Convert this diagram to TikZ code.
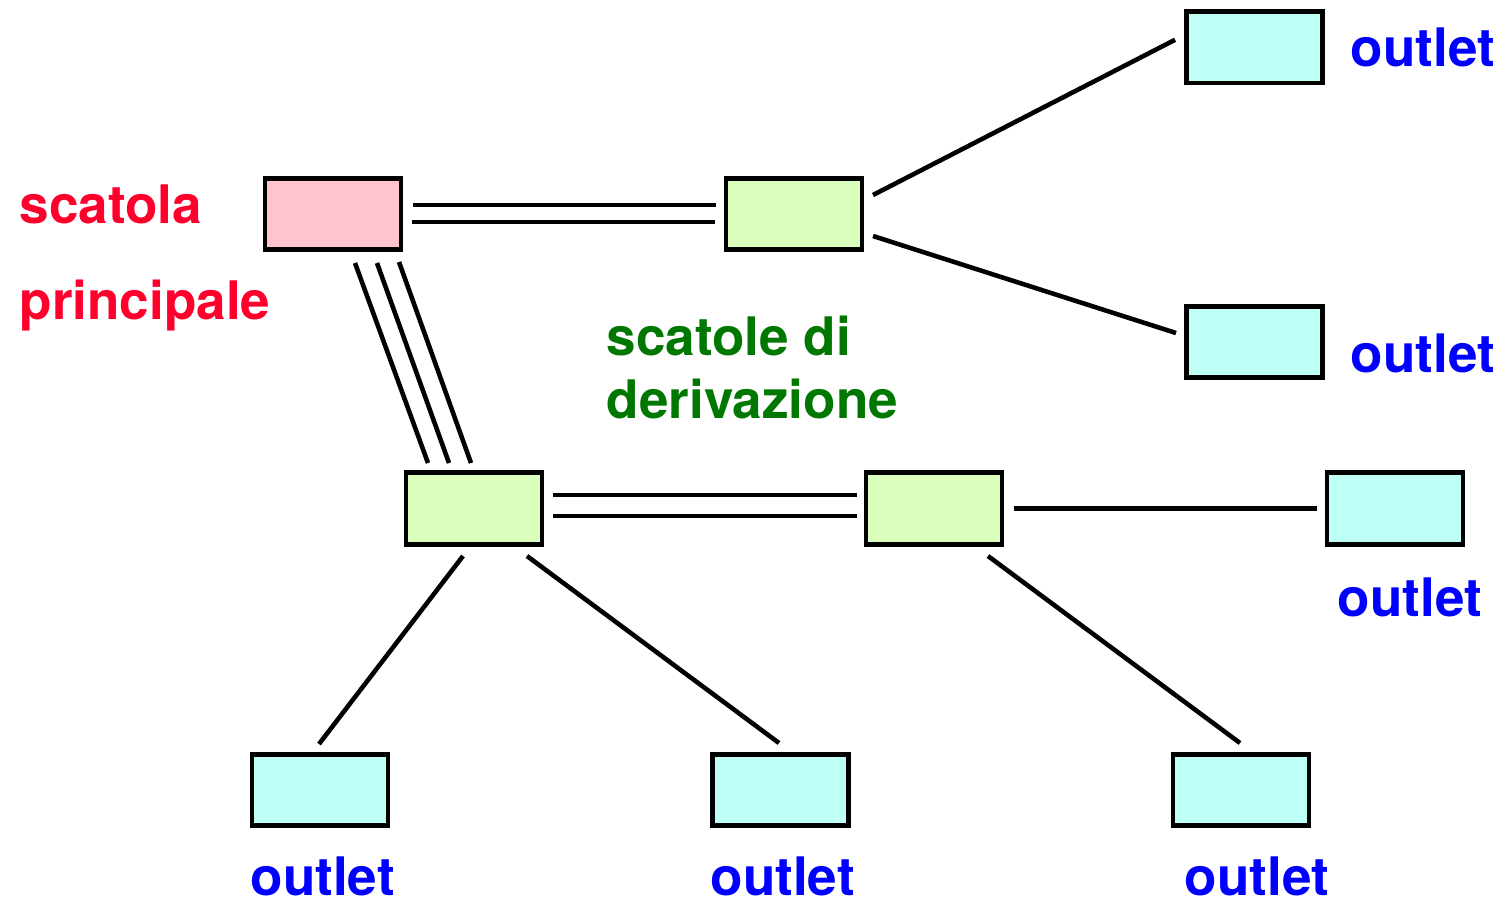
\documentclass[tikz,border=0pt]{standalone}
\usepackage{fontspec}
\setmainfont{TeX Gyre Heros}
\usetikzlibrary{positioning}

\definecolor{mainpink}{RGB}{255,196,206}
\definecolor{derivgreen}{RGB}{218,255,188}
\definecolor{outletcyan}{RGB}{190,255,246}
\definecolor{labelred}{RGB}{255,0,45}
\definecolor{labelgreen}{RGB}{0,119,0}
\definecolor{labelblue}{RGB}{0,0,255}

\tikzset{
  box/.style={draw, line width=1.3pt, minimum width=1.36cm, minimum height=0.715cm, inner sep=0pt},
  mainbox/.style={box, fill=mainpink},
  derivbox/.style={box, fill=derivgreen},
  outletbox/.style={box, fill=outletcyan},
  wire/.style={line width=1.3pt},
  lbl/.style={inner sep=0pt, anchor=base west, font=\fontsize{15.1}{18}\selectfont\bfseries}
}

\begin{document}
\begin{tikzpicture}
  \useasboundingbox (0,0) rectangle (15.05,-9.03);
  % boxes
  \node [mainbox] (main) at (3.33,-2.14) {};
  \node [derivbox] (der1) at (7.94,-2.14) {};
  \node [derivbox] (der2) at (4.74,-5.085) {};
  \node [derivbox] (der3) at (9.34,-5.085) {};
  \node [outletbox] (out1) at (12.545,-0.473) {};
  \node [outletbox] (out2) at (12.545,-3.42) {};
  \node [outletbox] (out3) at (13.95,-5.085) {};
  \node [outletbox] (out4) at (3.20,-7.90) {};
  \node [outletbox] (out5) at (7.805,-7.90) {};
  \node [outletbox] (out6) at (12.41,-7.90) {};
  % labels
  \node [lbl, labelred] (lmain1) at (0.19,-2.23) {scatola};
  \node [lbl, labelred] (lmain2) at (0.19,-3.19) {principale};
  \node [lbl, labelgreen] (lder1) at (6.06,-3.55) {scatole di};
  \node [lbl, labelgreen] (lder2) at (6.06,-4.18) {derivazione};
  \node [lbl, labelblue] (lout1) at (13.50,-0.66) {outlet};
  \node [lbl, labelblue] (lout2) at (13.50,-3.72) {outlet};
  \node [lbl, labelblue] (lout3) at (13.37,-6.16) {outlet};
  \node [lbl, labelblue] (lout4) at (2.50,-8.95) {outlet};
  \node [lbl, labelblue] (lout5) at (7.10,-8.95) {outlet};
  \node [lbl, labelblue] (lout6) at (11.84,-8.95) {outlet};
  % double lines
  \draw [wire] ([shift={(0.80,0.09)}]main.center) -- ([shift={(-0.78,0.09)}]der1.center);
  \draw [wire] ([shift={(0.79,-0.08)}]main.center) -- ([shift={(-0.79,-0.08)}]der1.center);
  \draw [wire] ([shift={(0.79,0.135)}]der2.center) -- ([shift={(-0.77,0.135)}]der3.center);
  \draw [wire] ([shift={(0.79,-0.075)}]der2.center) -- ([shift={(-0.77,-0.075)}]der3.center);
  % triple line down to the second box
  \draw [wire] ([shift={(0.22,-0.49)}]main.center) -- ([shift={(-0.46,0.455)}]der2.center);
  \draw [wire] ([shift={(0.44,-0.49)}]main.center) -- ([shift={(-0.25,0.455)}]der2.center);
  \draw [wire] ([shift={(0.66,-0.48)}]main.center) -- ([shift={(-0.03,0.455)}]der2.center);
  % single lines to the outlets
  \draw [wire] ([shift={(0.79,0.19)}]der1.center) -- ([shift={(-0.795,0.075)}]out1.center);
  \draw [wire] ([shift={(0.79,-0.22)}]der1.center) -- ([shift={(-0.785,0.09)}]out2.center);
  \draw [wire] ([shift={(0.80,0)}]der3.center) -- ([shift={(-0.78,0)}]out3.center);
  \draw [wire] ([shift={(-0.11,-0.475)}]der2.center) -- ([shift={(-0.01,0.46)}]out4.center);
  \draw [wire] ([shift={(0.53,-0.475)}]der2.center) -- ([shift={(-0.015,0.47)}]out5.center);
  \draw [wire] ([shift={(0.54,-0.475)}]der3.center) -- ([shift={(-0.01,0.47)}]out6.center);
\end{tikzpicture}
\end{document}
